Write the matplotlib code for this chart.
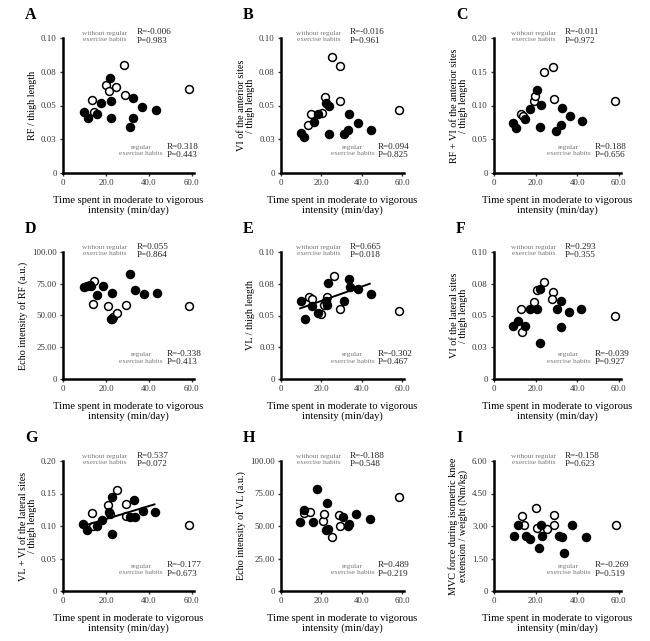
import matplotlib
matplotlib.use("Agg")
import matplotlib.pyplot as plt

plt.rcParams['font.family'] = ['Liberation Serif', 'DejaVu Serif']

# x = time spent in moderate to vigorous intensity (min/day)
# filled = without regular exercise habits, open = regular exercise habits
x_ticks = [0, 20, 40, 60]
x_tick_labels = ["0", "20.0", "40.0", "60.0"]

# A: RF / thigh length
a_wo_x = [9.9, 11.7, 15.7, 17.8, 21.7, 22.5, 22.5, 31.2, 32.7, 32.7, 37.0, 43.3]
a_wo_y = [0.045, 0.0405, 0.0438, 0.0518, 0.0705, 0.053, 0.0405, 0.034, 0.0555, 0.0405, 0.049, 0.047]
a_reg_x = [13.4, 14.4, 20.0, 21.3, 24.8, 28.6, 28.9, 58.5]
a_reg_y = [0.054, 0.0455, 0.065, 0.061, 0.064, 0.080, 0.0575, 0.062]

# B: VI of the anterior sites / thigh length
b_wo_x = [9.8, 11.2, 16.3, 18.4, 22.5, 23.7, 23.7, 31.0, 33.2, 33.9, 38.0, 44.5]
b_wo_y = [0.030, 0.027, 0.0375, 0.0436, 0.0522, 0.050, 0.029, 0.029, 0.032, 0.0436, 0.037, 0.032]
b_reg_x = [13.5, 14.7, 20.4, 21.7, 25.3, 29.4, 29.4, 58.5]
b_reg_y = [0.0358, 0.0436, 0.0444, 0.0566, 0.0858, 0.0792, 0.0534, 0.0466]

# C: RF + VI of the anterior sites / thigh length
c_wo_x = [9.2, 10.6, 15.1, 17.5, 20.6, 22.5, 21.9, 29.8, 32.2, 32.5, 36.5, 42.5]
c_wo_y = [0.0735, 0.067, 0.080, 0.0946, 0.1225, 0.101, 0.0676, 0.0618, 0.0716, 0.096, 0.0838, 0.0765]
c_reg_x = [13.2, 13.8, 19.0, 19.8, 24.1, 28.3, 28.6, 58.0]
c_reg_y = [0.088, 0.085, 0.107, 0.114, 0.150, 0.157, 0.110, 0.107]

# D: Echo intensity of RF (a.u.)
d_wo_x = [9.8, 11.4, 12.6, 16.0, 18.5, 23.0, 22.3, 23.0, 31.0, 33.4, 37.7, 44.0]
d_wo_y = [72.5, 73.0, 74.3, 66.0, 73.3, 68.0, 47.6, 47.6, 83.0, 70.0, 67.3, 68.0]
d_reg_x = [13.0, 14.5, 14.2, 20.8, 23.5, 25.2, 29.2, 58.5]
d_reg_y = [73.5, 77.0, 59.4, 57.6, 48.5, 51.6, 58.0, 57.6]

# E: VL / thigh length
e_wo_x = [9.8, 11.8, 15.6, 18.4, 23.4, 23.0, 22.4, 31.1, 33.6, 34.4, 38.0, 44.8]
e_wo_y = [0.0612, 0.0471, 0.0577, 0.0516, 0.0755, 0.0582, 0.0612, 0.0617, 0.079, 0.0723, 0.071, 0.067]
e_reg_x = [13.9, 15.6, 20.0, 21.5, 22.6, 26.4, 29.5, 58.5]
e_reg_y = [0.0649, 0.063, 0.051, 0.0585, 0.0649, 0.0808, 0.055, 0.0537]
e_fit_x = [9.5, 44.0]
e_fit_y = [0.0556, 0.075]

# F: VI of the lateral sites / thigh length
f_wo_x = [9.2, 11.4, 15.1, 17.5, 21.9, 20.6, 21.9, 30.2, 32.2, 32.2, 36.2, 41.8]
f_wo_y = [0.0418, 0.0454, 0.0418, 0.0554, 0.0707, 0.0554, 0.0283, 0.0549, 0.0617, 0.0408, 0.0527, 0.0554]
f_reg_x = [13.2, 13.5, 19.4, 20.6, 24.1, 28.3, 27.8, 57.9]
f_reg_y = [0.0549, 0.0372, 0.0603, 0.0698, 0.0766, 0.0685, 0.063, 0.0495]

# G: VL + VI of the lateral sites / thigh length
g_wo_x = [9.5, 11.4, 15.7, 18.0, 21.5, 22.6, 22.6, 31.0, 33.0, 33.4, 37.2, 43.0]
g_wo_y = [0.1026, 0.0933, 0.0995, 0.1087, 0.1215, 0.1446, 0.0882, 0.1138, 0.1395, 0.1138, 0.123, 0.1215]
g_reg_x = [13.4, 14.1, 21.0, 21.8, 25.2, 29.2, 29.5, 58.5]
g_reg_y = [0.120, 0.0995, 0.1318, 0.118, 0.156, 0.1344, 0.116, 0.102]
g_fit_x = [8.8, 42.6]
g_fit_y = [0.0995, 0.1333]

# H: Echo intensity of VL (a.u.)
h_wo_x = [9.4, 11.3, 15.8, 18.1, 23.0, 22.3, 23.4, 30.6, 33.1, 33.5, 37.4, 43.9]
h_wo_y = [53.4, 62.5, 53.4, 78.6, 67.7, 46.9, 47.4, 56.8, 50.0, 51.6, 59.4, 55.2]
h_reg_x = [11.5, 14.5, 20.6, 21.4, 25.5, 28.7, 29.4, 58.5]
h_reg_y = [60.0, 60.4, 54.2, 59.4, 41.7, 58.6, 50.0, 72.4]

# I: MVC force / weight (Nm/kg)
i_wo_x = [9.8, 11.5, 15.6, 17.5, 21.8, 22.6, 23.0, 31.1, 32.8, 33.6, 37.7, 44.3]
i_wo_y = [2.53, 3.03, 2.56, 2.42, 1.97, 3.03, 2.53, 2.53, 2.47, 1.77, 3.03, 2.49]
i_reg_x = [13.6, 14.4, 20.2, 20.8, 25.4, 28.7, 29.0, 58.5]
i_reg_y = [3.44, 3.03, 3.82, 2.92, 2.87, 3.50, 3.03, 3.03]

letters = ["A", "B", "C", "D", "E", "F", "G", "H", "I"]
ylabels = [
    "RF / thigh length",
    "VI of the anterior sites\n/ thigh length",
    "RF + VI of the anterior sites\n/ thigh length",
    "Echo intensity of RF (a.u.)",
    "VL / thigh length",
    "VI of the lateral sites\n/ thigh length",
    "VL + VI of the lateral sites\n/ thigh length",
    "Echo intensity of VL (a.u.)",
    "MVC force during isometric knee\nextension / weight (Nm/kg)",
]
wo_stats = [("R=-0.006", "P=0.983"), ("R=-0.016", "P=0.961"), ("R=-0.011", "P=0.972"),
            ("R=0.055", "P=0.864"), ("R=0.665", "P=0.018"), ("R=0.293", "P=0.355"),
            ("R=0.537", "P=0.072"), ("R=-0.188", "P=0.548"), ("R=-0.158", "P=0.623")]
reg_stats = [("R=0.318", "P=0.443"), ("R=0.094", "P=0.825"), ("R=0.188", "P=0.656"),
             ("R=-0.338", "P=0.413"), ("R=-0.302", "P=0.467"), ("R=-0.039", "P=0.927"),
             ("R=-0.177", "P=0.673"), ("R=0.489", "P=0.219"), ("R=-0.269", "P=0.519")]

thin_ticks = [0, 0.025, 0.05, 0.075, 0.10]
thin_labels = ["0", "0.03", "0.05", "0.08", "0.10"]
sum_ticks = [0, 0.05, 0.10, 0.15, 0.20]
sum_labels = ["0", "0.05", "0.10", "0.15", "0.20"]
echo_ticks = [0, 25, 50, 75, 100]
echo_labels = ["0", "25.00", "50.00", "75.00", "100.00"]
mvc_ticks = [0, 1.5, 3.0, 4.5, 6.0]
mvc_labels = ["0", "1.50", "3.00", "4.50", "6.00"]

panels = [
    (a_wo_x, a_wo_y, a_reg_x, a_reg_y, thin_ticks, thin_labels, None),
    (b_wo_x, b_wo_y, b_reg_x, b_reg_y, thin_ticks, thin_labels, None),
    (c_wo_x, c_wo_y, c_reg_x, c_reg_y, sum_ticks, sum_labels, None),
    (d_wo_x, d_wo_y, d_reg_x, d_reg_y, echo_ticks, echo_labels, None),
    (e_wo_x, e_wo_y, e_reg_x, e_reg_y, thin_ticks, thin_labels, (e_fit_x, e_fit_y)),
    (f_wo_x, f_wo_y, f_reg_x, f_reg_y, thin_ticks, thin_labels, None),
    (g_wo_x, g_wo_y, g_reg_x, g_reg_y, sum_ticks, sum_labels, (g_fit_x, g_fit_y)),
    (h_wo_x, h_wo_y, h_reg_x, h_reg_y, echo_ticks, echo_labels, None),
    (i_wo_x, i_wo_y, i_reg_x, i_reg_y, mvc_ticks, mvc_labels, None),
]

W, H = 650, 641
fig = plt.figure(figsize=(6.5, 6.41), dpi=100)

col_left = [63, 281, 494]
col_w = [131, 123, 127]
row_top = [38, 252, 461]
row_h = [135, 127, 130]

for k, (wx, wy, rx, ry, yt, ytl, fit) in enumerate(panels):
    r, c = divmod(k, 3)
    ax = fig.add_axes([col_left[c] / W, 1 - (row_top[r] + row_h[r]) / H,
                       col_w[c] / W, row_h[r] / H])
    ax.scatter(rx, ry, s=32, facecolors="white", edgecolors="black", linewidths=1.1, zorder=3)
    ax.scatter(wx, wy, s=34, color="black", zorder=4)
    if fit is not None:
        ax.plot(fit[0], fit[1], color="black", lw=1.4, zorder=5)
    ax.set_xlim(0, 61)
    ax.set_ylim(yt[0], yt[-1])
    ax.set_xticks(x_ticks)
    ax.set_xticklabels(x_tick_labels)
    ax.set_yticks(yt)
    ax.set_yticklabels(ytl)
    for s in ["top", "right"]:
        ax.spines[s].set_visible(False)
    for s in ["left", "bottom"]:
        ax.spines[s].set_linewidth(1.8)
    ax.tick_params(labelsize=6.3, length=2.5, width=1, pad=2, colors="#333333")
    ax.patch.set_alpha(0)
    ax.set_ylabel(ylabels[k], fontsize=7.3, labelpad=3, linespacing=1.0)
    ax.set_xlabel("Time spent in moderate to vigorous\nintensity (min/day)",
                  fontsize=7.6, labelpad=6, linespacing=1.1)
    # without regular exercise habits (top)
    ax.text(0.49, 1.01, "without regular\nexercise habits", transform=ax.transAxes,
            ha="right", va="center", fontsize=5.2, color="#777777", ma="center", linespacing=1.3)
    ax.text(0.56, 1.01, wo_stats[k][0] + "\n" + wo_stats[k][1], transform=ax.transAxes,
            ha="left", va="center", fontsize=6.6, color="#222222", linespacing=1.05)
    # regular exercise habits (bottom right)
    ax.text(0.76, 0.165, "regular\nexercise habits", transform=ax.transAxes,
            ha="right", va="center", fontsize=5.2, color="#777777", ma="center", linespacing=1.3)
    ax.text(0.79, 0.165, reg_stats[k][0] + "\n" + reg_stats[k][1], transform=ax.transAxes,
            ha="left", va="center", fontsize=6.6, color="#222222", linespacing=1.05)
    fig.text((col_left[c] - 38) / W, 1 - (row_top[r] - 23) / H, letters[k],
             fontsize=11.5, fontweight="bold", ha="left", va="center")

fig.savefig("out.png", dpi=100, facecolor="white")
